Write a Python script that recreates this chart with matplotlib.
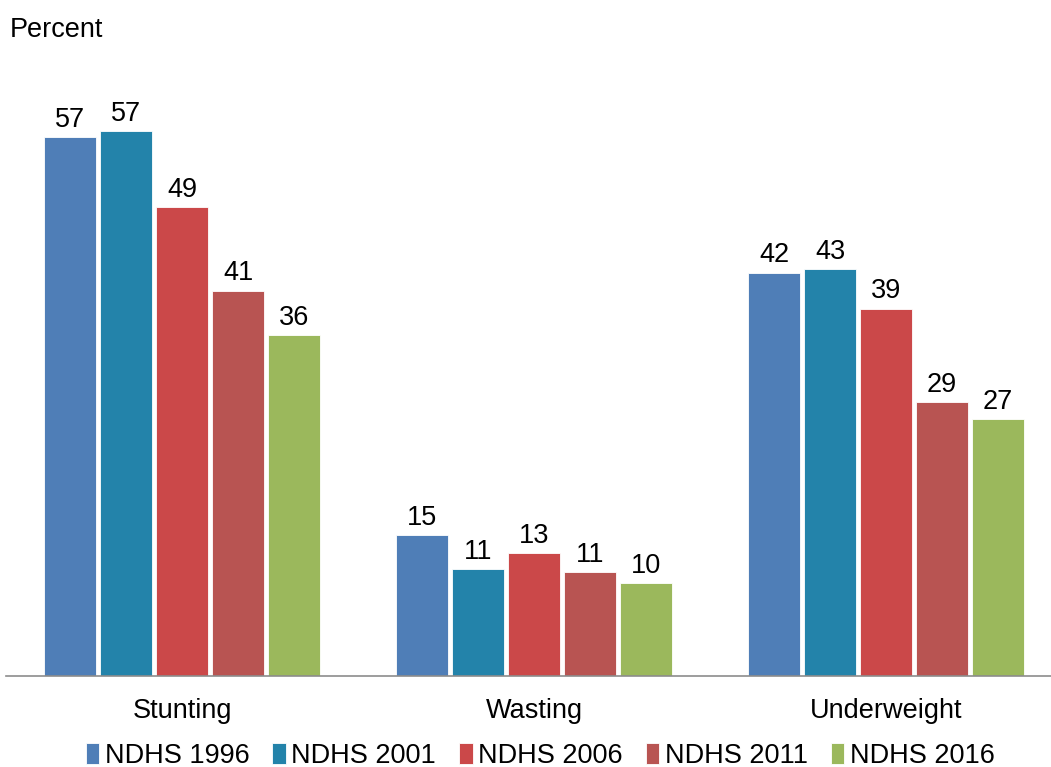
import matplotlib
matplotlib.use("Agg")
import matplotlib.pyplot as plt
import numpy as np

categories = ["Stunting", "Wasting", "Underweight"]
series = ["NDHS 1996", "NDHS 2001", "NDHS 2006", "NDHS 2011", "NDHS 2016"]
values = {
    "NDHS 1996": [56.9, 14.9, 42.6],
    "NDHS 2001": [57.5, 11.3, 43.0],
    "NDHS 2006": [49.5, 13.0, 38.8],
    "NDHS 2011": [40.7, 11.0, 28.9],
    "NDHS 2016": [36.0, 9.8, 27.1],
}
labels = {
    "NDHS 1996": ["57", "15", "42"],
    "NDHS 2001": ["57", "11", "43"],
    "NDHS 2006": ["49", "13", "39"],
    "NDHS 2011": ["41", "11", "29"],
    "NDHS 2016": ["36", "10", "27"],
}
colors = ["#4F7EB7", "#2383AA", "#CB4849", "#B85452", "#9BB85C"]

plt.rcParams["font.family"] = ["Liberation Sans", "DejaVu Sans"]
FS = 19.5

W, H = 1051, 767
fig = plt.figure(figsize=(W / 100, H / 100), dpi=100)
ax_left, ax_bottom, ax_top = 6, 676, 60
ax = fig.add_axes([ax_left / W, 1 - ax_bottom / H, (W - ax_left) / W, (ax_bottom - ax_top) / H])

px_per_unit_x = 352.0
xmax = (W - ax_left) / px_per_unit_x - 0.5
ax.set_xlim(-0.5, xmax)
ymax = (ax_bottom - ax_top) / 9.47
ax.set_ylim(0, ymax)

x = np.arange(len(categories))
pitch = 56 / px_per_unit_x
bw = 51.5 / px_per_unit_x
for i, s in enumerate(series):
    xs = x + (i - 2) * pitch
    bars = ax.bar(xs, values[s], width=bw, color=colors[i], edgecolor="white",
                  linewidth=0.6, label=s)
    for b, lab in zip(bars, labels[s]):
        ax.annotate(lab, (b.get_x() + b.get_width() / 2, b.get_height()),
                    xytext=(0, 3), textcoords="offset points",
                    ha="center", va="bottom", fontsize=FS, color="black")

for side in ["top", "right", "left"]:
    ax.spines[side].set_visible(False)
ax.spines["bottom"].set_color("#8C8C8C")
ax.spines["bottom"].set_linewidth(1.2)
ax.set_yticks([])
ax.set_xticks(x)
ax.set_xticklabels(categories, fontsize=FS)
ax.tick_params(axis="x", length=0, pad=16)

fig.text(10 / W, 1 - 30 / H, "Percent", fontsize=FS, ha="left", va="center")

leg = fig.legend(loc="center", bbox_to_anchor=(540 / W, 1 - 756 / H), ncol=5,
                 frameon=False, fontsize=FS, handlelength=0.5, handleheight=0.8,
                 handletextpad=0.2, columnspacing=0.85, borderaxespad=0)

fig.savefig("out.png", dpi=100)
